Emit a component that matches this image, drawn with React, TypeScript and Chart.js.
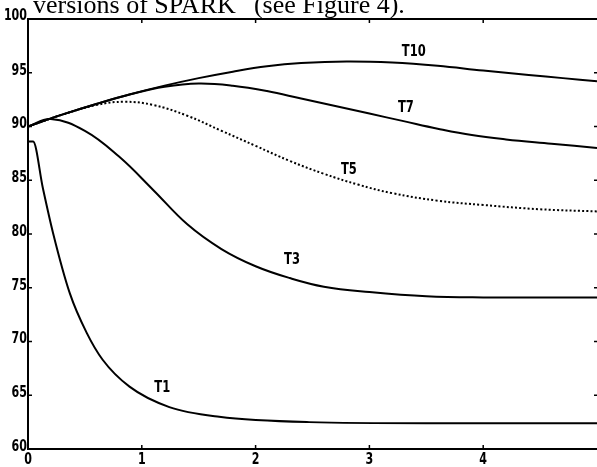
import React, { useEffect, useRef } from "react";
import { Chart, registerables } from "chart.js";

Chart.register(...registerables);

// ---- data ----
const xTickValues = [0, 1, 2, 3, 4, 5];
const xTickLabels = ["0", "1", "2", "3", "4", ""];
const yTickValues = [60, 65, 70, 75, 80, 85, 90, 95, 100];

const t1X = [0, 0.045, 0.13, 0.22, 0.367, 0.516, 0.656, 0.892, 1.242, 1.68, 2.47, 3.5, 5];
const t1Y = [88.6, 88.6, 84.3, 80.1, 74.5, 70.8, 68.3, 65.8, 63.9, 63.0, 62.5, 62.4, 62.4];

const t3X = [0, 0.2, 0.5, 0.8, 1.1, 1.4, 1.7, 2.0, 2.3, 2.6, 3.0, 3.5, 4.0, 5];
const t3Y = [90, 90.7, 89.6, 87.2, 84.1, 80.9, 78.6, 77.0, 75.9, 75.1, 74.6, 74.2, 74.1, 74.1];

const t5X = [0, 0.3, 0.6, 0.85, 1.1, 1.4, 1.7, 2.0, 2.3, 2.6, 2.9, 3.2, 3.6, 4.0, 4.5, 5];
const t5Y = [90, 91.1, 92.0, 92.3, 92.0, 91.0, 89.6, 88.2, 86.8, 85.6, 84.6, 83.8, 83.1, 82.7, 82.3, 82.1];

const t7X = [0, 0.3, 0.6, 0.9, 1.2, 1.5, 1.8, 2.1, 2.4, 2.7, 3.0, 3.3, 3.6, 3.9, 4.2, 4.6, 5];
const t7Y = [90, 91.1, 92.1, 93.0, 93.7, 94.0, 93.8, 93.3, 92.6, 91.9, 91.2, 90.5, 89.8, 89.2, 88.8, 88.4, 88.0];

const t10X = [0, 0.3, 0.6, 0.9, 1.2, 1.5, 1.8, 2.1, 2.4, 2.8, 3.2, 3.6, 4.0, 4.4, 4.7, 5];
const t10Y = [90, 91.1, 92.1, 93.0, 93.8, 94.5, 95.1, 95.6, 95.9, 96.05, 95.95, 95.65, 95.2, 94.8, 94.5, 94.2];

const curveLabels = ["T10", "T7", "T5", "T3", "T1"];
const curveLabelX = [3.39, 3.32, 2.82, 2.32, 1.18];
const curveLabelY = [96.9, 91.7, 86.0, 77.6, 65.7];

const titleText = "versions of SPARK\u2002\u2009(see Figure 4).";

const pts = (xs: number[], ys: number[]) => xs.map((x, i) => ({ x, y: ys[i] }));

const NARROW = "'Liberation Sans Narrow', 'DejaVu Sans Condensed', 'Arial Narrow', sans-serif";

function narrowText(ctx: any, text: string, x: number, y: number, sx: number) {
  ctx.save();
  ctx.translate(x, y);
  ctx.scale(sx, 1);
  ctx.fillText(text, 0, 0);
  ctx.restore();
}

const framePlugin = {
  id: "framePlugin",
  afterDraw(chart: any) {
    const { ctx, chartArea } = chart;
    const xs = chart.scales.x;
    const ys = chart.scales.y;
    ctx.save();
    ctx.strokeStyle = "#000";
    // top border
    ctx.lineWidth = 2;
    ctx.beginPath();
    ctx.moveTo(chartArea.left, chartArea.top);
    ctx.lineTo(chartArea.right, chartArea.top);
    ctx.stroke();
    // inward tick marks
    ctx.lineWidth = 1.5;
    xTickValues.forEach((v) => {
      if (v <= 0 || v >= 5) return;
      const px = xs.getPixelForValue(v);
      ctx.beginPath();
      ctx.moveTo(px, chartArea.bottom);
      ctx.lineTo(px, chartArea.bottom - 4);
      ctx.moveTo(px, chartArea.top);
      ctx.lineTo(px, chartArea.top + 4);
      ctx.stroke();
    });
    yTickValues.forEach((v) => {
      if (v <= 60 || v >= 100) return;
      const py = ys.getPixelForValue(v);
      ctx.beginPath();
      ctx.moveTo(chartArea.left, py);
      ctx.lineTo(chartArea.left + 4, py);
      ctx.moveTo(chartArea.right, py);
      ctx.lineTo(chartArea.right - 3, py);
      ctx.stroke();
    });
    ctx.fillStyle = "#000";
    // tick labels (condensed, like the plotter font)
    ctx.font = `bold 15px ${NARROW}`;
    ctx.textBaseline = "middle";
    ctx.textAlign = "right";
    yTickValues.forEach((v) => {
      const py = ys.getPixelForValue(v) - (v === 100 ? 3 : 2);
      narrowText(ctx, String(v), chartArea.left - 1, py, 0.82);
    });
    ctx.textAlign = "center";
    ctx.textBaseline = "alphabetic";
    xTickValues.forEach((v, i) => {
      if (!xTickLabels[i]) return;
      narrowText(ctx, xTickLabels[i], xs.getPixelForValue(v), chartArea.bottom + 15, 0.82);
    });
    // curve labels
    ctx.font = `bold 16px ${NARROW}`;
    ctx.textBaseline = "middle";
    curveLabels.forEach((t, i) => {
      narrowText(ctx, t, xs.getPixelForValue(curveLabelX[i]), ys.getPixelForValue(curveLabelY[i]), 0.8);
    });
    ctx.restore();
  },
};

export default function App() {
  const ref = useRef<HTMLCanvasElement | null>(null);

  useEffect(() => {
    if (!ref.current) return;
    const line = (label: string, xs: number[], ys: number[], dash: number[] = [], mono = false) => ({
      label,
      data: pts(xs, ys),
      borderColor: "#000",
      backgroundColor: "#000",
      borderWidth: 2,
      borderDash: dash,
      pointRadius: 0,
      fill: false,
      tension: 0.4,
      cubicInterpolationMode: mono ? ("monotone" as const) : ("default" as const),
    });
    const chart = new Chart(ref.current, {
      type: "line",
      data: {
        datasets: [
          line("T1", t1X, t1Y, [], true),
          line("T3", t3X, t3Y),
          line("T5", t5X, t5Y, [2, 2.2]),
          line("T7", t7X, t7Y),
          line("T10", t10X, t10Y),
        ],
      },
      options: {
        animation: false,
        responsive: false,
        devicePixelRatio: 1,
        layout: { padding: { top: 19, right: 0, left: 0, bottom: 0 } },
        plugins: { legend: { display: false }, tooltip: { enabled: false }, title: { display: false } },
        scales: {
          x: {
            type: "linear",
            min: 0,
            max: 5,
            afterBuildTicks: (scale: any) => {
              scale.ticks = xTickValues.map((v) => ({ value: v }));
            },
            afterFit: (scale: any) => {
              scale.height = 18;
              scale.paddingLeft = 0;
              scale.paddingRight = 0;
            },
            grid: { display: false, drawTicks: false },
            border: { display: true, color: "#000", width: 2 },
            ticks: { display: false },
          },
          y: {
            type: "linear",
            min: 60,
            max: 100,
            afterBuildTicks: (scale: any) => {
              scale.ticks = yTickValues.map((v) => ({ value: v }));
            },
            afterFit: (scale: any) => {
              scale.width = 28;
              scale.paddingTop = 0;
              scale.paddingBottom = 0;
            },
            grid: { display: false, drawTicks: false },
            border: { display: true, color: "#000", width: 2 },
            ticks: { display: false },
          },
        },
      },
      plugins: [framePlugin],
    });
    return () => chart.destroy();
  }, []);

  return (
    <div
      style={{
        position: "fixed",
        left: 0,
        top: 0,
        width: 597,
        height: 467,
        overflow: "hidden",
        background: "#fff",
      }}
    >
      <canvas ref={ref} width={597} height={467} style={{ position: "absolute", left: 0, top: 0 }} />
      <div
        style={{
          position: "absolute",
          left: 33,
          top: -8,
          fontFamily: "'Liberation Serif', 'Times New Roman', serif",
          fontSize: 26,
          lineHeight: "26px",
          whiteSpace: "pre",
          color: "#000",
        }}
      >
        {titleText}
      </div>
    </div>
  );
}
